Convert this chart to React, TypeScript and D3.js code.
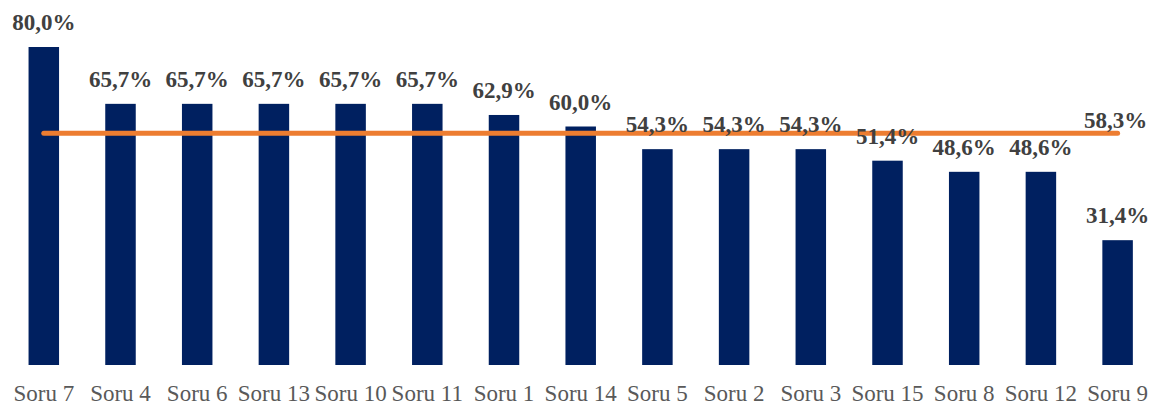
import React from "react";
import * as d3 from "d3";

const categories = [
  "Soru 7", "Soru 4", "Soru 6", "Soru 13", "Soru 10", "Soru 11", "Soru 1", "Soru 14",
  "Soru 5", "Soru 2", "Soru 3", "Soru 15", "Soru 8", "Soru 12", "Soru 9",
];
const values = [80.0, 65.7, 65.7, 65.7, 65.7, 65.7, 62.9, 60.0, 54.3, 54.3, 54.3, 51.4, 48.6, 48.6, 31.4];
const average = 58.3;

const width = 1156;
const height = 408;
const baseline = 365;
const barWidth = 30.5;

const fmt = (v: number) => v.toFixed(1).replace(".", ",") + "%";

export default function App() {
  // bar centres
  const x = d3.scalePoint<string>().domain(categories).range([43.8, 1117.6]);
  const y = d3.scaleLinear().domain([0, 100]).range([baseline, baseline - 397.5]);

  const first = x(categories[0]) as number;
  const last = x(categories[categories.length - 1]) as number;

  return (
    <svg
      width={width}
      height={height}
      style={{ position: "absolute", left: 0, top: 0, background: "#fff" }}
      fontFamily="'Liberation Serif', 'Times New Roman', serif"
    >
      {/* bars */}
      <g fill="#002060">
        {values.map((v, i) => (
          <rect
            key={categories[i]}
            x={(x(categories[i]) as number) - barWidth / 2}
            y={y(v)}
            width={barWidth}
            height={y(0) - y(v)}
          />
        ))}
      </g>

      {/* average line */}
      <line
        x1={first}
        x2={last}
        y1={y(average)}
        y2={y(average)}
        stroke="#ED7D31"
        strokeWidth={5}
        strokeLinecap="round"
      />

      {/* bar labels */}
      <g fill="#404040" fontWeight="bold" fontSize={23} textAnchor="middle">
        {values.map((v, i) => (
          <text key={categories[i]} x={x(categories[i]) as number} y={y(v) - 17}>
            {fmt(v)}
          </text>
        ))}
        <text x={last - 2} y={y(average) - 5}>
          {fmt(average)}
        </text>
      </g>

      {/* category axis */}
      <g fill="#595959" fontSize={23} textAnchor="middle">
        {categories.map((c) => (
          <text key={c} x={x(c) as number} y={401}>
            {c}
          </text>
        ))}
      </g>
    </svg>
  );
}
